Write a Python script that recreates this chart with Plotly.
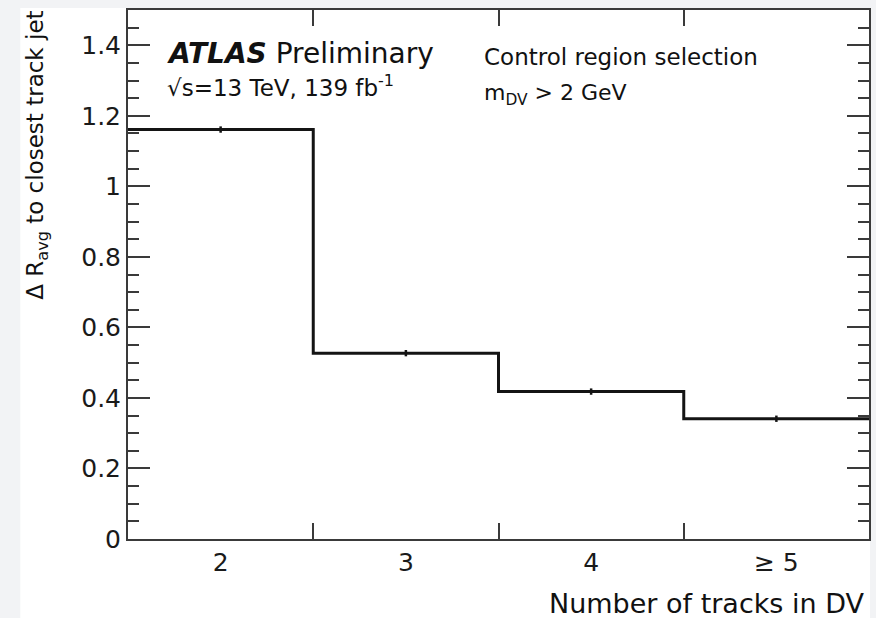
import plotly.graph_objects as go

# ---- data ----
bin_edges = [1.5, 2.5, 3.5, 4.5, 5.5]
bin_centers = [2, 3, 4, 5]
bin_labels = ["2", "3", "4", "\u2265 5"]
dr_avg = [1.161, 0.527, 0.418, 0.341]
dr_err = [0.009, 0.009, 0.009, 0.009]

FONT = "DejaVu Sans, Liberation Sans, Arial"
AX = "#3a3a3a"

fig = go.Figure()

# step histogram outline
fig.add_trace(go.Scatter(
    x=bin_edges,
    y=dr_avg + [dr_avg[-1]],
    mode="lines",
    line=dict(shape="hv", color="#141414", width=3),
    hoverinfo="skip",
    showlegend=False,
))

# statistical error bars at bin centres (drawn on the mirrored top axis, same scale)
fig.add_trace(go.Scatter(
    x=bin_centers,
    y=dr_avg,
    xaxis="x2",
    mode="markers",
    marker=dict(size=1, color="#141414"),
    error_y=dict(type="data", array=dr_err, visible=True, width=0,
                 thickness=2.5, color="#141414"),
    hoverinfo="skip",
    showlegend=False,
))

W, H = 876, 618
L, R, T, B = 128, 5, 10, 79
pw, ph = W - L - R, H - T - B

def px(xp):
    return (xp - L) / pw

def py(yp):
    return (H - B - yp) / ph

fig.update_layout(
    width=W, height=H,
    margin=dict(l=L, r=R, t=T, b=B),
    paper_bgcolor="#f2f3f5",
    plot_bgcolor="white",
    font=dict(family=FONT, size=25, color="#1a1a1a"),
    showlegend=False,
    xaxis=dict(
        range=[bin_edges[0], bin_edges[-1]],
        tickvals=bin_centers,
        ticktext=bin_labels,
        ticks="",
        showgrid=False, zeroline=False,
        showline=True, linecolor=AX, linewidth=2,
        mirror=True,
        tickfont=dict(size=25),
        minor=dict(tickvals=bin_edges[1:-1], ticks="inside", ticklen=16,
                   tickwidth=2, tickcolor=AX, showgrid=False),
    ),
    xaxis2=dict(
        overlaying="x", side="top", matches="x",
        range=[bin_edges[0], bin_edges[-1]],
        tickvals=bin_edges[1:-1],
        ticks="inside", ticklen=16, tickwidth=2, tickcolor=AX,
        showticklabels=False, showgrid=False, zeroline=False, showline=False,
    ),
    yaxis=dict(
        range=[0, 1.5],
        tick0=0, dtick=0.2,
        ticks="inside", ticklen=22, tickwidth=2, tickcolor=AX,
        showgrid=False, zeroline=False,
        showline=True, linecolor=AX, linewidth=2,
        mirror="ticks",
        tickfont=dict(size=25),
        minor=dict(dtick=0.05, ticks="inside", ticklen=11, tickwidth=2,
                   tickcolor=AX, showgrid=False),
    ),
)

# white page area (the screenshot has a light grey margin on left/top/right)
fig.add_shape(type="rect", xref="paper", yref="paper", layer="below",
              x0=px(20), x1=px(872), y0=py(H + 5), y1=py(8),
              fillcolor="white", line=dict(width=0))

# texts
fig.add_annotation(xref="paper", yref="paper", x=px(165), y=py(53),
                   xanchor="left", yanchor="middle", showarrow=False,
                   text="<b><i>ATLAS</i></b> Preliminary",
                   font=dict(size=28, family=FONT, color="#111"))
fig.add_annotation(xref="paper", yref="paper", x=px(165), y=py(86),
                   xanchor="left", yanchor="middle", showarrow=False,
                   text="\u221as=13 TeV, 139 fb<sup>-1</sup>",
                   font=dict(size=23, family=FONT, color="#111"))
fig.add_annotation(xref="paper", yref="paper", x=px(483), y=py(57),
                   xanchor="left", yanchor="middle", showarrow=False,
                   text="Control region selection",
                   font=dict(size=23, family=FONT, color="#111"))
fig.add_annotation(xref="paper", yref="paper", x=px(483), y=py(95),
                   xanchor="left", yanchor="middle", showarrow=False,
                   text="m<sub>DV</sub> > 2 GeV",
                   font=dict(size=22, family=FONT, color="#111"))
fig.add_annotation(xref="paper", yref="paper", x=px(869), y=py(603),
                   xanchor="right", yanchor="middle", showarrow=False,
                   text="Number of tracks in DV",
                   font=dict(size=27, family=FONT, color="#111"))
fig.add_annotation(xref="paper", yref="paper", x=px(36), y=py(9),
                   xanchor="center", yanchor="top", showarrow=False,
                   textangle=-90,
                   text="\u0394 R<sub>avg</sub> to closest track jet",
                   font=dict(size=23, family=FONT, color="#111"))

fig.write_html("out.html",
               config={"displayModeBar": False},
               post_script="document.body.style.margin='0px';"
                           "document.body.style.overflow='hidden';")
